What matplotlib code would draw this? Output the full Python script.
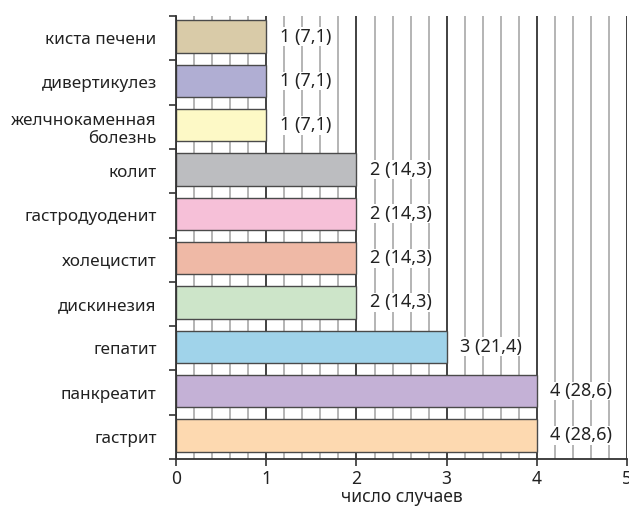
import matplotlib.pyplot as plt
from matplotlib.ticker import MultipleLocator, FixedLocator

# Структура заболеваний (число случаев и % от общего)
diseases = ["гастрит", "панкреатит", "гепатит", "дискинезия", "холецистит",
            "гастродуоденит", "колит", "желчнокаменная\nболезнь",
            "дивертикулез", "киста печени"]
cases = [4, 4, 3, 2, 2, 2, 2, 1, 1, 1]
percent = [28.6, 28.6, 21.4, 14.3, 14.3, 14.3, 14.3, 7.1, 7.1, 7.1]
colors = ["#fdd9b0", "#c4b1d6", "#a0d3ea", "#cde5c9", "#efb9a6",
          "#f6c0d8", "#bcbdc0", "#fdf9c6", "#b0aed3", "#d9cba8"]

plt.rcParams['font.family'] = ['Noto Sans', 'DejaVu Sans']

fig = plt.figure(figsize=(6.29, 5.09), dpi=100)
ax = fig.add_axes([0.28, 0.098, 0.7168, 0.8706])

y = list(range(len(diseases)))
ax.barh([i + 0.035 for i in y], cases, height=0.73, color=colors,
        edgecolor="#4a4a4a", linewidth=1.0, zorder=3)

for i, (c, p) in enumerate(zip(cases, percent)):
    txt = f"{c} ({p:.1f})".replace(".", ",")
    ax.text(c + 0.15, i + 0.035, txt, va="center", ha="left", fontsize=13,
            color="#222222", zorder=4,
            bbox=dict(facecolor="white", edgecolor="none", pad=0.3))

ax.set_xlim(0, 5)
ax.set_ylim(-0.5, len(diseases) - 0.5)

ax.xaxis.set_major_locator(MultipleLocator(1))
ax.xaxis.set_minor_locator(MultipleLocator(0.2))
ax.grid(axis="x", which="minor", color="#a8a8a8", linewidth=1.2, zorder=0)
ax.grid(axis="x", which="major", color="#333333", linewidth=1.3, zorder=1)

ax.set_yticks(y)
ax.set_yticklabels(diseases, fontsize=12.3, color="#222222")
ax.yaxis.set_minor_locator(FixedLocator([k - 0.5 for k in range(len(diseases) + 1)]))
ax.tick_params(axis="y", which="major", length=0, pad=14)
ax.tick_params(axis="y", which="minor", length=5, width=1.2, color="#333333")
ax.tick_params(axis="x", which="major", length=5, width=1.2, color="#333333",
               labelsize=12.5, labelcolor="#222222", pad=3)
ax.tick_params(axis="x", which="minor", length=0)

ax.spines["top"].set_visible(False)
ax.spines["right"].set_visible(False)
for s in ("left", "bottom"):
    ax.spines[s].set_color("#333333")
    ax.spines[s].set_linewidth(1.3)
    ax.spines[s].set_zorder(5)

ax.set_xlabel("число случаев", fontsize=12.5, color="#222222", labelpad=0)

fig.savefig("out.png", dpi=100)
